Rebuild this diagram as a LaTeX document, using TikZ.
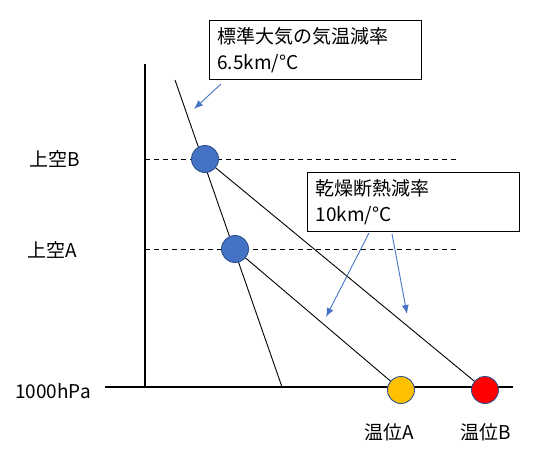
\documentclass[tikz,border=0pt]{standalone}
\usepackage{fontspec}
\setmainfont{Noto Sans CJK JP}
\usetikzlibrary{arrows.meta}

\definecolor{pointblue}{HTML}{4472C4}
\definecolor{pointedge}{HTML}{2F528F}
\definecolor{warmorange}{HTML}{FFC000}

\begin{document}
\begin{tikzpicture}[x=1pt, y=-1pt,
      font=\fontsize{19}{26}\selectfont,
      axis/.style={line width=1.4pt},
      lapse/.style={line width=0.9pt},
      level/.style={line width=0.9pt, dash pattern=on 5pt off 4pt},
      bubble/.style={circle, draw=pointedge, line width=0.9pt,
                     minimum size=27pt, inner sep=0pt},
      note/.style={draw, line width=0.9pt, anchor=north west, align=left,
                   inner xsep=8pt, text width=196pt},
      hint/.style={draw=pointblue, line width=0.9pt,
                   -{Latex[length=9pt, width=7pt]}},
      label/.style={inner sep=0pt}]
    \useasboundingbox (0,0) rectangle (545,460);
    % points of the diagram
    \coordinate (upB) at (205,159);
    \coordinate (upA) at (235,249);
    \coordinate (potA) at (401,390);
    \coordinate (potB) at (485,390);
    \coordinate (stdtop) at (175,80);
    \coordinate (stdbot) at (282,387);
    % axes and levels
    \draw[axis] (145,64) -- (145,387);
    \draw[axis] (105,387) -- (513,387);
    \draw[level] (145,159) -- (457,159);
    \draw[level] (145,249) -- (457,249);
    % lapse lines
    \draw[lapse] (stdtop) -- (stdbot);
    \draw[lapse] (upB) -- (potB);
    \draw[lapse] (upA) -- (potA);
    % parcels
    \node[bubble, fill=pointblue] (bB) at (upB) {};
    \node[bubble, fill=pointblue] (bA) at (upA) {};
    \node[bubble, fill=warmorange] (tA) at (potA) {};
    \node[bubble, fill=red] (tB) at (potB) {};
    % labels
    \node[label] (lvB) at (55,159) {上空B};
    \node[label] (lvA) at (52,250) {上空A};
    \node[label] (lv0) at (53,391) {1000hPa};
    \node[label] (nA) at (389,432) {温位A};
    \node[label] (nB) at (486,432) {温位B};
    % notes
    \node[note, minimum height=59pt] (std) at (209,20)
      {標準大気の気温減率\\6.5km/°C};
    \node[note, minimum height=59pt] (dry) at (307,172)
      {乾燥断熱減率\\10km/°C};
    \coordinate (s1) at (221,84);
    \coordinate (e1) at (194,109);
    \coordinate (s2) at (369,233);
    \coordinate (e2) at (326,317);
    \coordinate (s3) at (392,234);
    \coordinate (e3) at (407,314);
    \draw[hint] (s1) -- (e1);
    \draw[hint] (s2) -- (e2);
    \draw[hint] (s3) -- (e3);
\end{tikzpicture}
\end{document}
